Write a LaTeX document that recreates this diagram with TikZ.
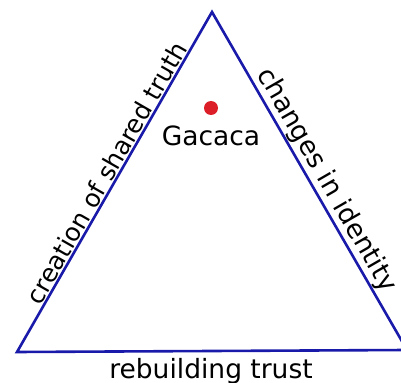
\documentclass[tikz,border=0pt]{standalone}
\usepackage{fontspec}
\setmainfont{DejaVu Sans}
\usetikzlibrary{positioning}
\definecolor{edgeblue}{RGB}{25,25,170}
\definecolor{dotred}{RGB}{220,30,40}

\begin{document}
\begin{tikzpicture}[x=1bp,y=1bp,
    lbl/.style={font=\fontsize{26.5bp}{31bp}\selectfont, inner sep=2bp}]
        % Gacaca triangle, the right corner runs past the frame
        \clip (0,0) rectangle (401,383);

        \coordinate (T) at (212,371);
        \coordinate (L) at (17,31);
        \coordinate (R) at (407,33);

        \draw[edgeblue, line width=2.6bp] (L) -- (T) -- (R) -- cycle;

        \path (L) -- (T) node[lbl, font=\fontsize{25bp}{30bp}\selectfont, sloped, above, pos=0.51] (truth) {creation of shared truth};
        \path (T) -- (R) node[lbl, sloped, above, pos=0.52] (identity) {changes in identity};
        \node[lbl, anchor=base] (trust) at (211,5) {rebuilding trust};

        \node[circle, fill=dotred, minimum size=14bp, inner sep=0pt] (dot) at (211,275) {};
        \node[lbl, below=8bp of dot] (gacaca) {Gacaca};

    \end{tikzpicture}
\end{document}
